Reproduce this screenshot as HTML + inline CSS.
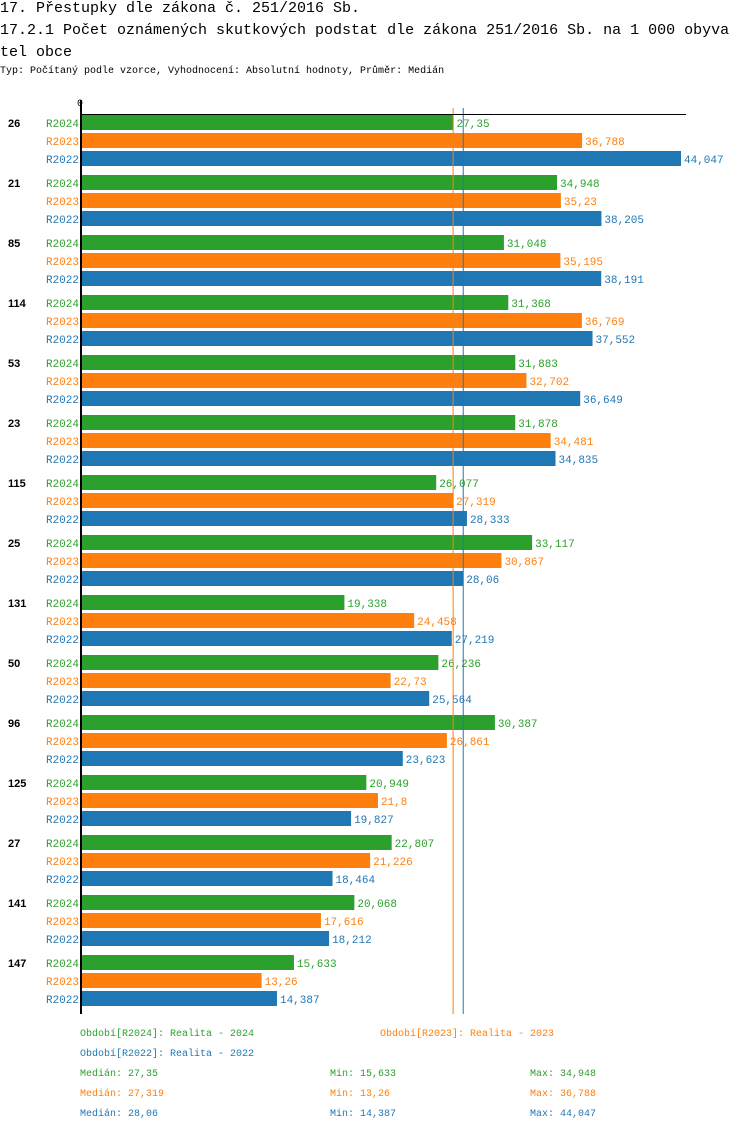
<!DOCTYPE html>
<html><head><meta charset="utf-8"><style>
body{margin:0;background:#fff;width:750px;height:1134px;overflow:hidden;font-family:"Liberation Mono",monospace}
.t{position:absolute;white-space:nowrap}
</style></head><body>
<div class="t" style="left:0;top:0;font-size:15px">17. Přestupky dle zákona č. 251/2016 Sb.</div>
<div class="t" style="left:0;top:20px;font-size:15px;line-height:22px;white-space:normal;word-break:break-all;width:735px">17.2.1 Počet oznámených skutkových podstat dle zákona 251/2016 Sb. na 1 000 obyvatel obce</div>
<div class="t" style="left:0;top:66px;font-size:10px">Typ: Počítaný podle vzorce, Vyhodnocení: Absolutní hodnoty, Průměr: Medián</div>
<svg id="c" width="750" height="1134" style="position:absolute;left:0;top:0"></svg>
<script>
const categories=["26","21","85","114","53","23","115","25","131","50","96","125","27","141","147"];
const seriesNames=["R2024","R2023","R2022"];
const r2024=[27.35,34.948,31.048,31.368,31.883,31.878,26.077,33.117,19.338,26.236,30.387,20.949,22.807,20.068,15.633];
const r2023=[36.788,35.23,35.195,36.769,32.702,34.481,27.319,30.867,24.458,22.73,26.861,21.8,21.226,17.616,13.26];
const r2022=[44.047,38.205,38.191,37.552,36.649,34.835,28.333,28.06,27.219,25.564,23.623,19.827,18.464,18.212,14.387];
const medians=[27.35,27.319,28.06];
const colors=["#2ca02c","#ff7f0e","#1f77b4"];
const NS="http://www.w3.org/2000/svg",svg=document.getElementById('c');
const x0=81,sc=600/44.047,x=v=>x0+v*sc,top0=115;
const fmt=v=>String(v).replace('.',',');
function mk(t,a,txt){const e=document.createElementNS(NS,t);for(const k in a)e.setAttribute(k,a[k]);if(txt!=null)e.textContent=txt;svg.appendChild(e);return e;}
const data=[r2024,r2023,r2022];
let e=mk('text',{x:x0-1,y:106,'font-size':10,'font-family':'Liberation Mono, monospace','text-anchor':'middle'},'0');

categories.forEach((c,i)=>{
  const gy=top0+i*60;
  e=mk('text',{x:8,y:gy+12,'font-size':11,'font-weight':'bold','font-family':'Liberation Sans, sans-serif'},c);
  
  data.forEach((arr,s)=>{
    const y=gy+s*18;
    e=mk('text',{x:79,y:y+12,'font-size':11,fill:colors[s],'text-anchor':'end','font-family':'Liberation Mono, monospace'},seriesNames[s]);
    
    e=mk('rect',{x:x0,y:y,width:x(arr[i])-x0,height:15,fill:colors[s]});
    
    e=mk('text',{x:x(arr[i])+3,y:y+12,'font-size':11,fill:colors[s],'font-family':'Liberation Mono, monospace'},fmt(arr[i]));
    
  });
});
[1,2].forEach(s=>{e=mk('line',{x1:x(medians[s]),x2:x(medians[s]),y1:108,y2:1014,stroke:colors[s],'stroke-width':1});
});
e=mk('line',{x1:x0,x2:686,y1:114.5,y2:114.5,stroke:'#000','stroke-width':1});

e=mk('line',{x1:x0,x2:x0,y1:100,y2:1014,stroke:'#000','stroke-width':2});

</script>
<div style="font-size:10px">
<div class="t" style="left:80px;top:1029px;color:#2ca02c">Období[R2024]: Realita - 2024</div>
<div class="t" style="left:380px;top:1029px;color:#ff7f0e">Období[R2023]: Realita - 2023</div>
<div class="t" style="left:80px;top:1049px;color:#1f77b4">Období[R2022]: Realita - 2022</div>
<div class="t" style="left:80px;top:1069px;color:#2ca02c">Medián: 27,35</div>
<div class="t" style="left:330px;top:1069px;color:#2ca02c">Min: 15,633</div>
<div class="t" style="left:530px;top:1069px;color:#2ca02c">Max: 34,948</div>
<div class="t" style="left:80px;top:1089px;color:#ff7f0e">Medián: 27,319</div>
<div class="t" style="left:330px;top:1089px;color:#ff7f0e">Min: 13,26</div>
<div class="t" style="left:530px;top:1089px;color:#ff7f0e">Max: 36,788</div>
<div class="t" style="left:80px;top:1109px;color:#1f77b4">Medián: 28,06</div>
<div class="t" style="left:330px;top:1109px;color:#1f77b4">Min: 14,387</div>
<div class="t" style="left:530px;top:1109px;color:#1f77b4">Max: 44,047</div>
</div>
</body></html>
